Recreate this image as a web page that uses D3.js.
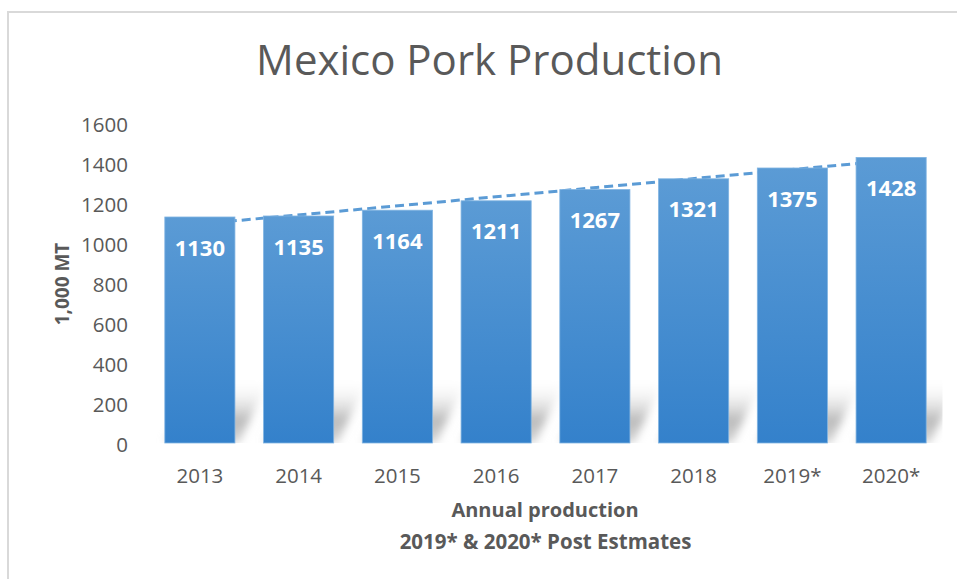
<!DOCTYPE html>
<html lang="en">
<head>
  <meta charset="UTF-8">
  <title>Mexico Pork Production</title>
  <script src="https://cdn.jsdelivr.net/npm/d3@7.9.0/dist/d3.min.js"></script>
  <style>
    html, body { margin: 0; padding: 0; background: #fff; }
    svg { display: block; font-family: "Open Sans", sans-serif; }
    .tick text { fill: #595959; font-size: 20.5px; font-family: "Open Sans", sans-serif; }
  </style>
</head>
<body>
  <svg id="chart" width="957" height="579"></svg>
  <script>
    // data
    const years = ["2013", "2014", "2015", "2016", "2017", "2018", "2019*", "2020*"];
    const production = [1130, 1135, 1164, 1211, 1267, 1321, 1375, 1428];
    const yTicks = [0, 200, 400, 600, 800, 1000, 1200, 1400, 1600];

    const svg = d3.select("#chart");
    const plotLeft = 150.5, plotRight = 940.5, plotTop = 123, plotBottom = 443;

    const x = d3.scaleBand().domain(years).range([plotLeft, plotRight])
      .paddingInner(0.29).paddingOuter(0.145);
    const y = d3.scaleLinear().domain([0, 1600]).range([plotBottom, plotTop]);

    // outer frame
    svg.append("rect")
      .attr("x", 8).attr("y", 12).attr("width", 970).attr("height", 600)
      .attr("fill", "none").attr("stroke", "#d9d9d9").attr("stroke-width", 2);

    const defs = svg.append("defs");
    const barGrad = defs.append("linearGradient").attr("id", "barGrad")
      .attr("x1", 0).attr("y1", 0).attr("x2", 0).attr("y2", 1);
    barGrad.append("stop").attr("offset", "0%").attr("stop-color", "#5b9bd5");
    barGrad.append("stop").attr("offset", "100%").attr("stop-color", "#3481cb");

    const shGrad = defs.append("linearGradient").attr("id", "shGrad")
      .attr("x1", 0).attr("y1", 1).attr("x2", 0).attr("y2", 0);
    shGrad.append("stop").attr("offset", "0%").attr("stop-color", "#c4c4c4").attr("stop-opacity", 0.7);
    shGrad.append("stop").attr("offset", "35%").attr("stop-color", "#bababa").attr("stop-opacity", 1);
    shGrad.append("stop").attr("offset", "100%").attr("stop-color", "#ffffff").attr("stop-opacity", 0);

    defs.append("filter").attr("id", "blur")
      .attr("x", "-30%").attr("y", "-30%").attr("width", "160%").attr("height", "160%")
      .append("feGaussianBlur").attr("stdDeviation", 4);

    defs.append("clipPath").attr("id", "plotClip")
      .append("rect").attr("x", plotLeft - 10).attr("y", plotTop - 20)
      .attr("width", plotRight + 2 - (plotLeft - 10)).attr("height", plotBottom - plotTop + 20);

    // skewed shadow behind the bars
    const shH = 64, shDx = 34;
    svg.append("g").attr("clip-path", "url(#plotClip)")
      .append("g").attr("filter", "url(#blur)")
      .selectAll("path").data(years).join("path")
      .attr("d", d => {
        const x0 = x(d), x1 = x(d) + x.bandwidth();
        return `M${x0},${plotBottom}L${x1 + 4},${plotBottom}L${x1 + shDx},${plotBottom - shH}L${x0 + shDx},${plotBottom - shH}Z`;
      })
      .attr("fill", "url(#shGrad)");

    // linear trend line (least squares over the categories)
    const idx = production.map((_, i) => i);
    const mx = d3.mean(idx), my = d3.mean(production);
    const slope = d3.sum(idx, i => (i - mx) * (production[i] - my)) / d3.sum(idx, i => (i - mx) ** 2);
    const trend = [0, years.length - 1].map(i => [x(years[i]) + x.bandwidth() / 2, y(my + slope * (i - mx))]);
    svg.append("path")
      .attr("d", d3.line()(trend))
      .attr("fill", "none")
      .attr("stroke", "#5b9bd5")
      .attr("stroke-width", 3)
      .attr("stroke-dasharray", "9,5");

    // bars
    svg.append("g").selectAll("rect").data(production).join("rect")
      .attr("x", (d, i) => x(years[i]))
      .attr("y", d => y(d))
      .attr("width", x.bandwidth())
      .attr("height", d => y(0) - y(d))
      .attr("fill", "url(#barGrad)")
      .attr("stroke", "#7fb3e2").attr("stroke-width", 0.8);

    // value labels
    svg.append("g").selectAll("text").data(production).join("text")
      .attr("x", (d, i) => x(years[i]) + x.bandwidth() / 2)
      .attr("y", d => y(d) + 38.5)
      .attr("text-anchor", "middle")
      .attr("fill", "#fff")
      .attr("font-weight", "bold")
      .attr("font-size", "22px")
      .text(d => d);

    // axes
    const yAxis = svg.append("g").attr("transform", "translate(134,0)")
      .call(d3.axisLeft(y).tickValues(yTicks).tickFormat(d3.format("d")).tickSize(0).tickPadding(6));
    yAxis.attr("font-family", null).select(".domain").remove();
    yAxis.selectAll("text").attr("dy", "0.42em");

    const xAxis = svg.append("g").attr("transform", `translate(0,${plotBottom})`)
      .call(d3.axisBottom(x).tickSize(0));
    xAxis.attr("font-family", null).select(".domain").remove();
    xAxis.selectAll("text").attr("y", 40).attr("dy", 0);

    // titles
    svg.append("text")
      .attr("x", 489.5).attr("y", 75)
      .attr("text-anchor", "middle")
      .attr("fill", "#595959")
      .attr("font-size", "42px")
      .text("Mexico Pork Production");

    svg.append("text")
      .attr("transform", "translate(69,284) rotate(-90)")
      .attr("text-anchor", "middle")
      .attr("fill", "#595959")
      .attr("font-weight", "bold")
      .attr("font-size", "19px")
      .text("1,000 MT");

    svg.append("text")
      .attr("x", 545).attr("y", 517)
      .attr("text-anchor", "middle")
      .attr("fill", "#595959")
      .attr("font-weight", "bold")
      .attr("font-size", "20px")
      .text("Annual production");

    svg.append("text")
      .attr("x", 545.5).attr("y", 549)
      .attr("text-anchor", "middle")
      .attr("fill", "#595959")
      .attr("font-weight", "bold")
      .attr("font-size", "20.5px")
      .text("2019* & 2020* Post Estmates");
  </script>
</body>
</html>
